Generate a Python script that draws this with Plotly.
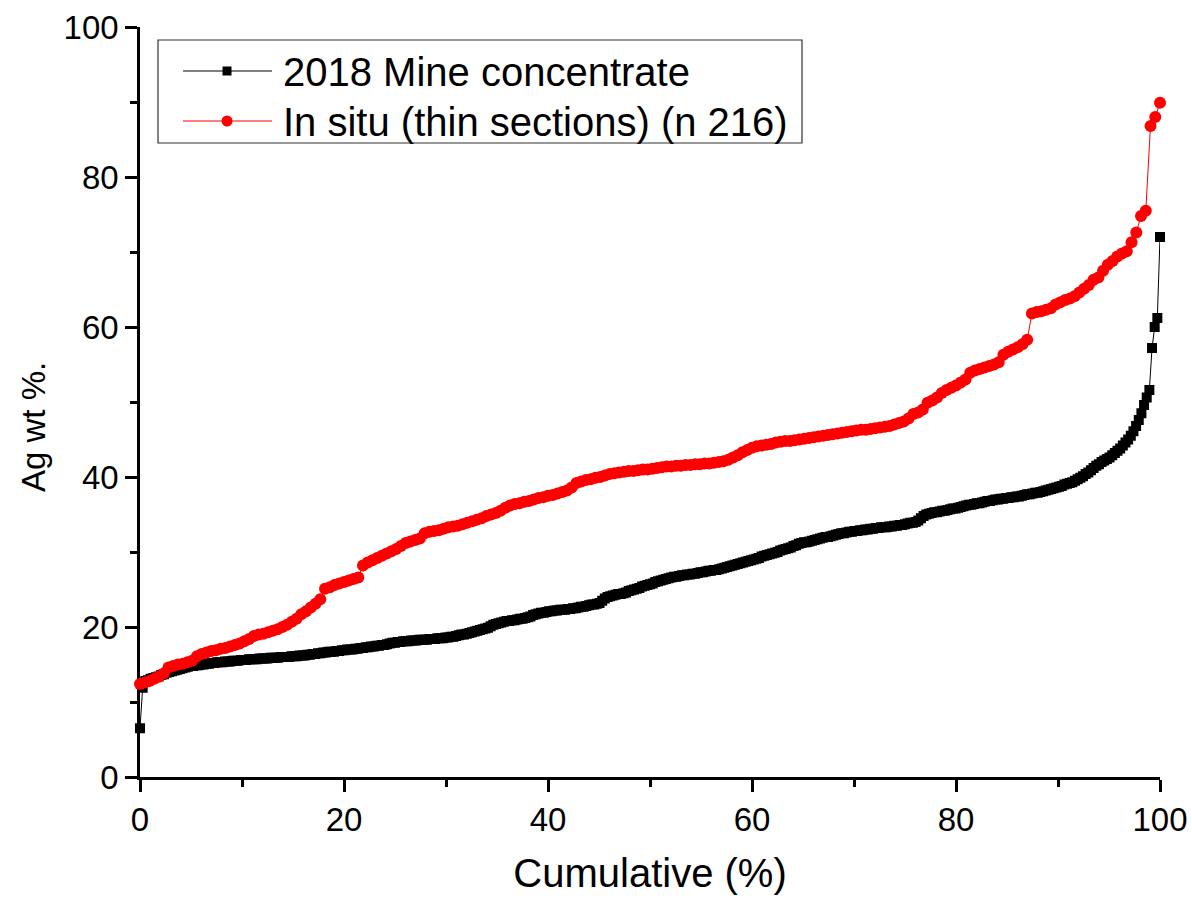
import plotly.graph_objects as go

# Ag content (wt %) of each analysis, sorted ascending
mine_concentrate_2018 = [
    6.5, 11.9, 12.8, 12.9, 13.1, 13.2, 13.3, 13.4, 13.6, 13.7,
    13.9, 14.0, 14.1, 14.2, 14.3, 14.4, 14.5, 14.6, 14.7, 14.8,
    14.8, 14.9, 14.9, 15.0, 15.0, 15.1, 15.1, 15.2, 15.2, 15.3,
    15.3, 15.3, 15.4, 15.4, 15.4, 15.5, 15.5, 15.5, 15.6, 15.6,
    15.6, 15.7, 15.7, 15.7, 15.7, 15.8, 15.8, 15.8, 15.8, 15.9,
    15.9, 15.9, 15.9, 16.0, 16.0, 16.0, 16.0, 16.1, 16.1, 16.1,
    16.2, 16.2, 16.2, 16.3, 16.3, 16.4, 16.4, 16.5, 16.5, 16.6,
    16.6, 16.7, 16.7, 16.7, 16.8, 16.8, 16.9, 16.9, 17.0, 17.0,
    17.0, 17.1, 17.1, 17.2, 17.2, 17.3, 17.3, 17.4, 17.4, 17.5,
    17.5, 17.6, 17.6, 17.7, 17.8, 17.9, 17.9, 18.0, 18.0, 18.1,
    18.1, 18.1, 18.2, 18.2, 18.2, 18.3, 18.3, 18.3, 18.3, 18.4,
    18.4, 18.4, 18.5, 18.5, 18.5, 18.6, 18.6, 18.7, 18.7, 18.8,
    18.9, 19.0, 19.0, 19.1, 19.2, 19.3, 19.4, 19.5, 19.6, 19.7,
    19.8, 19.9, 20.1, 20.3, 20.4, 20.5, 20.6, 20.7, 20.8, 20.8,
    20.9, 20.9, 21.0, 21.1, 21.1, 21.2, 21.3, 21.4, 21.6, 21.7,
    21.8, 21.9, 21.9, 22.0, 22.1, 22.1, 22.2, 22.2, 22.3, 22.3,
    22.3, 22.4, 22.4, 22.5, 22.5, 22.6, 22.7, 22.7, 22.8, 22.9,
    23.0, 23.0, 23.1, 23.2, 23.5, 23.8, 24.0, 24.1, 24.2, 24.3,
    24.4, 24.4, 24.5, 24.6, 24.8, 24.9, 25.0, 25.1, 25.2, 25.4,
    25.5, 25.6, 25.7, 25.8, 26.0, 26.1, 26.2, 26.3, 26.4, 26.5,
    26.6, 26.7, 26.7, 26.8, 26.9, 26.9, 27.0, 27.0, 27.1, 27.1,
    27.2, 27.3, 27.3, 27.4, 27.5, 27.5, 27.6, 27.6, 27.7, 27.8,
    27.9, 28.0, 28.1, 28.2, 28.3, 28.4, 28.5, 28.6, 28.7, 28.8,
    28.9, 29.0, 29.1, 29.2, 29.4, 29.5, 29.6, 29.7, 29.8, 29.9,
    30.0, 30.2, 30.3, 30.4, 30.5, 30.6, 30.8, 30.9, 31.1, 31.2,
    31.3, 31.3, 31.4, 31.5, 31.6, 31.7, 31.8, 31.9, 32.0, 32.0,
    32.1, 32.2, 32.3, 32.4, 32.5, 32.5, 32.6, 32.7, 32.7, 32.8,
    32.8, 32.9, 32.9, 33.0, 33.0, 33.1, 33.1, 33.2, 33.2, 33.3,
    33.3, 33.3, 33.4, 33.4, 33.5, 33.5, 33.6, 33.6, 33.7, 33.8,
    33.9, 33.9, 34.0, 34.2, 34.5, 34.8, 35.0, 35.1, 35.2, 35.3,
    35.3, 35.4, 35.5, 35.5, 35.6, 35.7, 35.8, 35.8, 35.9, 36.0,
    36.1, 36.2, 36.3, 36.3, 36.4, 36.5, 36.5, 36.6, 36.7, 36.8,
    36.8, 36.9, 37.0, 37.0, 37.1, 37.1, 37.2, 37.2, 37.3, 37.3,
    37.4, 37.4, 37.5, 37.6, 37.7, 37.7, 37.8, 37.9, 37.9, 38.0,
    38.1, 38.2, 38.3, 38.4, 38.5, 38.6, 38.7, 38.8, 39.0, 39.1,
    39.2, 39.3, 39.5, 39.7, 39.9, 40.1, 40.4, 40.6, 40.9, 41.2,
    41.5, 41.7, 42.0, 42.2, 42.4, 42.6, 42.9, 43.2, 43.5, 43.8,
    44.2, 44.6, 45.0, 45.5, 46.1, 46.8, 47.6, 48.5, 49.6, 50.6,
    51.6, 57.2, 60.0, 61.2, 72.0,
]

in_situ_thin_sections = [
    12.4, 12.6, 12.8, 13.1, 13.4, 13.8, 14.6, 14.8, 15.0, 15.1,
    15.3, 15.5, 16.1, 16.4, 16.6, 16.8, 16.9, 17.1, 17.2, 17.4,
    17.6, 17.8, 18.1, 18.4, 18.8, 19.0, 19.1, 19.3, 19.5, 19.7,
    20.0, 20.3, 20.7, 21.1, 21.7, 22.1, 22.6, 23.1, 23.7, 25.1,
    25.3, 25.6, 25.8, 26.0, 26.2, 26.4, 26.6, 28.2, 28.6, 28.9,
    29.2, 29.5, 29.8, 30.1, 30.4, 30.8, 31.2, 31.4, 31.6, 31.8,
    32.5, 32.7, 32.8, 32.9, 33.1, 33.3, 33.4, 33.5, 33.7, 33.9,
    34.1, 34.3, 34.5, 34.8, 35.0, 35.2, 35.5, 35.9, 36.2, 36.4,
    36.5, 36.7, 36.8, 37.0, 37.2, 37.3, 37.5, 37.6, 37.8, 38.0,
    38.2, 38.6, 39.2, 39.4, 39.6, 39.7, 39.9, 40.0, 40.2, 40.4,
    40.5, 40.6, 40.7, 40.8, 40.8, 40.9, 41.0, 41.0, 41.1, 41.2,
    41.3, 41.4, 41.4, 41.5, 41.5, 41.6, 41.6, 41.7, 41.7, 41.8,
    41.8, 41.9, 42.0, 42.1, 42.3, 42.6, 42.9, 43.3, 43.6, 43.9,
    44.1, 44.2, 44.3, 44.4, 44.6, 44.7, 44.8, 44.8, 44.9, 45.0,
    45.1, 45.2, 45.3, 45.4, 45.5, 45.6, 45.7, 45.8, 45.9, 46.0,
    46.1, 46.2, 46.3, 46.3, 46.4, 46.5, 46.6, 46.7, 46.8, 47.0,
    47.2, 47.4, 47.8, 48.4, 48.6, 49.0, 49.9, 50.2, 50.6, 51.2,
    51.6, 51.9, 52.2, 52.6, 53.0, 53.9, 54.2, 54.4, 54.6, 54.8,
    55.0, 55.3, 56.3, 56.7, 57.0, 57.3, 57.7, 58.3, 61.8, 62.0,
    62.1, 62.3, 62.5, 63.0, 63.3, 63.6, 63.8, 64.1, 64.6, 65.1,
    65.6, 66.3, 66.6, 67.5, 68.3, 68.8, 69.4, 69.8, 70.1, 71.3,
    72.6, 74.8, 75.5, 86.8, 88.0, 89.9,
]

series_names = ["2018 Mine concentrate", "In situ (thin sections) (n 216)"]
x_title = "Cumulative (%)"
y_title = "Ag wt %."


def cumulative_percent(values):
    n = len(values)
    return [100.0 * i / (n - 1) for i in range(n)]


FONT = "Arial, 'Liberation Sans', sans-serif"
W, H = 1192, 899
L, R, T, B = 140, 32, 27, 122
PW, PH = W - L - R, H - T - B


def px_x(px):
    return (px - L) / PW


def px_y(py):
    return (H - B - py) / PH


fig = go.Figure()

fig.add_trace(go.Scatter(
    x=cumulative_percent(mine_concentrate_2018), y=mine_concentrate_2018,
    mode="lines+markers", name=series_names[0], showlegend=False,
    line=dict(color="#000000", width=1),
    marker=dict(symbol="square", size=10, color="#000000", line=dict(width=0)),
    cliponaxis=False,
))
fig.add_trace(go.Scatter(
    x=cumulative_percent(in_situ_thin_sections), y=in_situ_thin_sections,
    mode="lines+markers", name=series_names[1], showlegend=False,
    line=dict(color="#FF0000", width=1),
    marker=dict(symbol="circle", size=12, color="#FF0000", line=dict(width=0)),
    cliponaxis=False,
))

axis_common = dict(
    range=[0, 100], dtick=20, tick0=0,
    showline=True, linecolor="#000000", linewidth=2.5,
    ticks="outside", ticklen=12, tickwidth=2.5, tickcolor="#000000",
    minor=dict(ticks="outside", ticklen=7, tickwidth=2.5, tickcolor="#000000", dtick=10),
    showgrid=False, zeroline=False, layer="below traces",
    tickfont=dict(family=FONT, size=33, color="#000000"),
)

fig.update_xaxes(**axis_common,
                 title=dict(text=x_title, font=dict(family=FONT, size=40, color="#000000"), standoff=22))
fig.update_yaxes(**axis_common, title=dict(text=""))

# Legend box with line-and-marker samples
box = dict(x0=158, x1=802, y0=40, y1=143)
shapes = [dict(type="rect", xref="paper", yref="paper",
               x0=px_x(box["x0"]), x1=px_x(box["x1"]), y0=px_y(box["y1"]), y1=px_y(box["y0"]),
               line=dict(color="#333333", width=1.2), fillcolor="rgba(0,0,0,0)")]
annotations = [dict(xref="paper", yref="paper", x=px_x(33), y=px_y(427),
                    xanchor="center", yanchor="middle", textangle=-90, showarrow=False,
                    text=y_title, font=dict(family=FONT, size=33, color="#000000"))]
rows = [(71, "#000000", "square"), (121, "#FF0000", "circle")]
for (cy, color, sym), label in zip(rows, series_names):
    shapes.append(dict(type="line", xref="paper", yref="paper",
                       x0=px_x(183), x1=px_x(272), y0=px_y(cy), y1=px_y(cy),
                       line=dict(color=color, width=1)))
    r = 4.5 if sym == "square" else 5.5
    shapes.append(dict(type="rect" if sym == "square" else "circle",
                       xref="paper", yref="paper",
                       x0=px_x(227 - r), x1=px_x(227 + r), y0=px_y(cy + r), y1=px_y(cy - r),
                       line=dict(width=0), fillcolor=color))
    annotations.append(dict(xref="paper", yref="paper", x=px_x(281), y=px_y(cy + 1),
                            xanchor="left", yanchor="middle", showarrow=False, text=label,
                            font=dict(family=FONT, size=40, color="#000000")))

fig.update_layout(
    width=W, height=H,
    margin=dict(l=L, r=R, t=T, b=B, autoexpand=False),
    paper_bgcolor="#FFFFFF", plot_bgcolor="#FFFFFF",
    shapes=shapes, annotations=annotations,
    showlegend=False,
)

fig.write_html("out.html")
